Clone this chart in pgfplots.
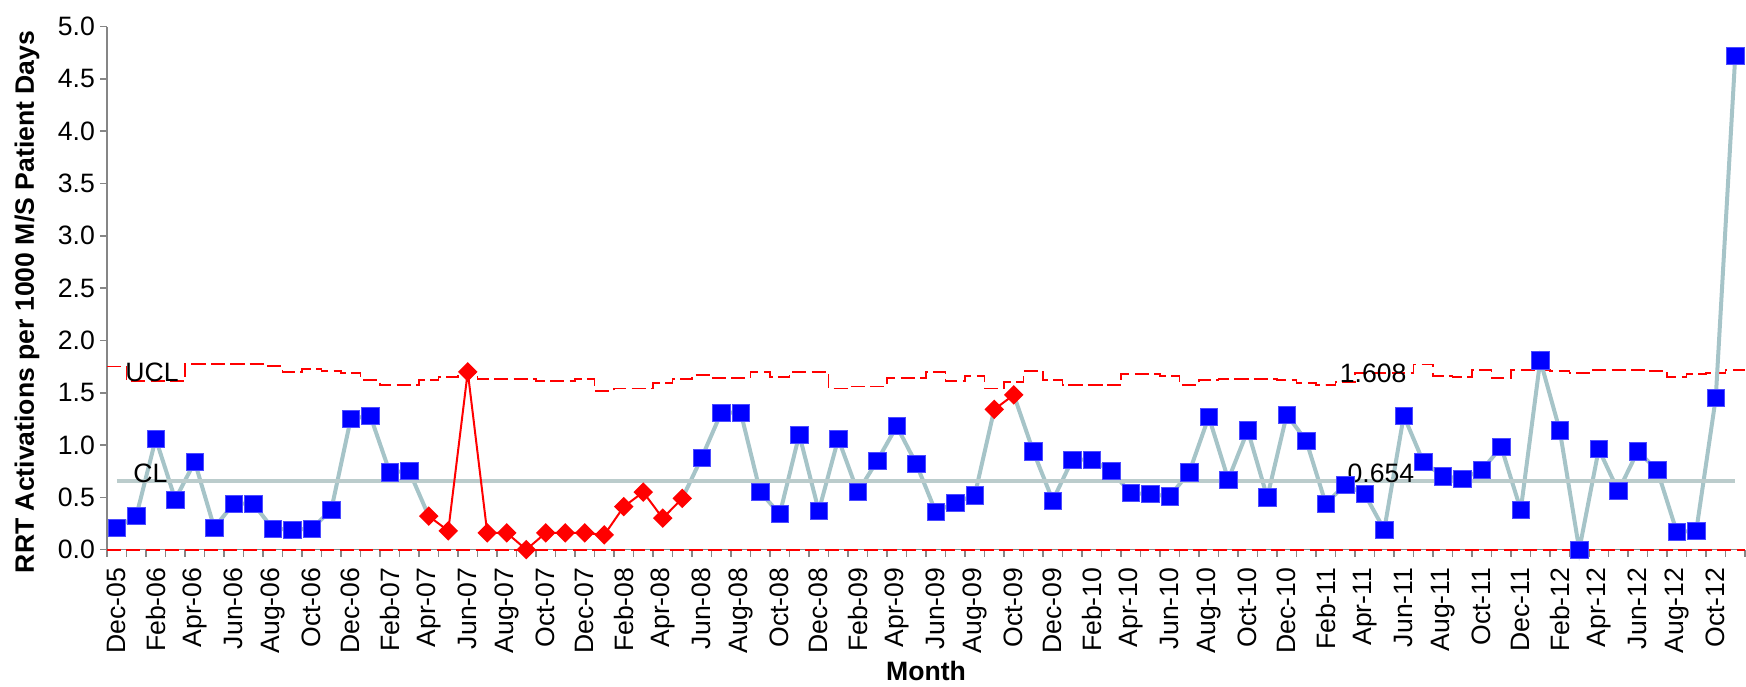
\documentclass[border=0pt]{standalone}
\usepackage{fontspec}
\setmainfont{Liberation Sans}
\usepackage{pgfplots}
\usepackage{pgfplotstable}
\pgfplotsset{compat=1.18}
\definecolor{dataline}{RGB}{166,196,200}
\definecolor{clline}{RGB}{187,204,204}
\definecolor{axgray}{RGB}{134,134,134}
\newcommand{\chartfont}{\fontsize{13.3}{15}\selectfont}
\pgfplotstableread{
i v
0 0.21
1 0.32
2 1.06
3 0.48
4 0.84
5 0.21
6 0.44
7 0.44
8 0.20
9 0.19
10 0.20
11 0.38
12 1.25
13 1.28
14 0.74
15 0.75
16 0.32
17 0.18
18 1.70
19 0.16
20 0.16
21 0.00
22 0.16
23 0.16
24 0.16
25 0.14
26 0.41
27 0.55
28 0.30
29 0.49
30 0.88
31 1.31
32 1.31
33 0.55
34 0.34
35 1.10
36 0.37
37 1.06
38 0.55
39 0.85
40 1.18
41 0.82
42 0.36
43 0.45
44 0.52
45 1.34
46 1.48
47 0.94
48 0.47
49 0.86
50 0.86
51 0.75
52 0.54
53 0.53
54 0.51
55 0.74
56 1.27
57 0.67
58 1.14
59 0.50
60 1.29
61 1.04
62 0.44
63 0.62
64 0.53
65 0.19
66 1.28
67 0.84
68 0.70
69 0.68
70 0.76
71 0.98
72 0.38
73 1.81
74 1.14
75 0.00
76 0.96
77 0.56
78 0.94
79 0.76
80 0.17
81 0.18
82 1.45
83 4.72
}\rrtdata
\pgfplotstableread{
i u
-0.5 1.75
0 1.75
1 1.61
2 1.61
3 1.61
4 1.775
5 1.775
6 1.775
7 1.775
8 1.755
9 1.70
10 1.73
11 1.71
12 1.69
13 1.62
14 1.57
15 1.57
16 1.62
17 1.65
18 1.69
19 1.63
20 1.63
21 1.63
22 1.61
23 1.61
24 1.63
25 1.52
26 1.54
27 1.54
28 1.59
29 1.63
30 1.67
31 1.64
32 1.64
33 1.70
34 1.65
35 1.70
36 1.70
37 1.54
38 1.56
39 1.56
40 1.64
41 1.64
42 1.70
43 1.61
44 1.66
45 1.54
46 1.60
47 1.71
48 1.62
49 1.575
50 1.575
51 1.575
52 1.68
53 1.68
54 1.66
55 1.575
56 1.62
57 1.63
58 1.63
59 1.63
60 1.62
61 1.59
62 1.575
63 1.606
64 1.686
65 1.686
66 1.69
67 1.77
68 1.66
69 1.65
70 1.72
71 1.64
72 1.72
73 1.72
74 1.71
75 1.69
76 1.72
77 1.72
78 1.72
79 1.71
80 1.65
81 1.68
82 1.69
83 1.72
83.5 1.72
}\ucldata
\begin{document}
\begin{tikzpicture}
\begin{axis}[
  scale only axis,
  width=819pt, height=261.5pt,
  xmin=-0.5, xmax=83.5, ymin=0, ymax=5,
  clip=false,
  axis x line*=bottom, axis y line*=left,
  axis line style={draw=axgray, line width=0.8pt},
  tick align=outside,
  xtick={0,2,...,82},
  xticklabels={Dec-05,Feb-06,Apr-06,Jun-06,Aug-06,Oct-06,Dec-06,Feb-07,Apr-07,Jun-07,Aug-07,Oct-07,Dec-07,Feb-08,Apr-08,Jun-08,Aug-08,Oct-08,Dec-08,Feb-09,Apr-09,Jun-09,Aug-09,Oct-09,Dec-09,Feb-10,Apr-10,Jun-10,Aug-10,Oct-10,Dec-10,Feb-11,Apr-11,Jun-11,Aug-11,Oct-11,Dec-11,Feb-12,Apr-12,Jun-12,Aug-12,Oct-12},
  major x tick style={draw=none},
  minor xtick={-0.5,0.5,...,83.5},
  minor x tick style={draw=axgray, line width=0.8pt},
  minor tick length=3.5pt,
  ytick={0,0.5,...,5},
  major y tick style={draw=axgray, line width=0.8pt},
  major tick length=3.5pt,
  /pgf/number format/assume math mode=true,
  y tick label style={/pgf/number format/fixed, /pgf/number format/fixed zerofill, /pgf/number format/precision=1},
  ticklabel style={font=\chartfont},
  x tick label style={rotate=90, anchor=east, xshift=-2pt},
  y tick label style={xshift=1pt},
  xlabel={Month}, ylabel={RRT Activations per 1000 M/S Patient Days},
  every axis x label/.style={at={(axis description cs:0.5,0)}, yshift=-60.5pt, anchor=center, font=\bfseries\chartfont},
  every axis y label/.style={at={(axis description cs:0,0.4736)}, xshift=-40pt, rotate=90, anchor=center, font=\bfseries\chartfont},
]
% UCL
\addplot[red, line width=0.9pt, dash pattern=on 7pt off 2.7pt, const plot mark mid, no markers] table[x=i,y=u] {\ucldata};
% LCL
\addplot[red, line width=1pt, dash pattern=on 7pt off 2.7pt, no markers] coordinates {(-0.5,0) (83.5,0)};
% data gray line
\addplot[dataline, line width=2pt, no markers, restrict x to domain=0:16] table[x=i,y=v] {\rrtdata};
\addplot[dataline, line width=2pt, no markers, restrict x to domain=29:45] table[x=i,y=v] {\rrtdata};
\addplot[dataline, line width=2pt, no markers, restrict x to domain=46:83] table[x=i,y=v] {\rrtdata};
% CL
\addplot[clline, line width=2pt, no markers] coordinates {(0,0.654) (83,0.654)};
% red segments
\addplot[red, line width=1pt, mark=square*, mark size=2.95pt, mark options={rotate=45, fill=red, draw=red}, restrict x to domain=16:29] table[x=i,y=v] {\rrtdata};
\addplot[red, line width=1pt, mark=square*, mark size=2.95pt, mark options={rotate=45, fill=red, draw=red}, restrict x to domain=45:46] table[x=i,y=v] {\rrtdata};
% blue markers
\addplot[only marks, mark=square*, mark size=4.3pt, mark options={fill=blue, draw=blue!70!white, line width=0.3pt}, restrict x to domain=0:15] table[x=i,y=v] {\rrtdata};
\addplot[only marks, mark=square*, mark size=4.3pt, mark options={fill=blue, draw=blue!70!white, line width=0.3pt}, restrict x to domain=30:44] table[x=i,y=v] {\rrtdata};
\addplot[only marks, mark=square*, mark size=4.3pt, mark options={fill=blue, draw=blue!70!white, line width=0.3pt}, restrict x to domain=47:83] table[x=i,y=v] {\rrtdata};
% labels
\node[anchor=west, inner sep=0pt, font=\chartfont] at (axis cs:0.42,1.69) {UCL};
\node[anchor=west, inner sep=0pt, font=\chartfont] at (axis cs:0.83,0.73) {CL};
\node[anchor=west, inner sep=0pt, font=\chartfont] at (axis cs:62.7,1.686) {1.608};
\node[anchor=west, inner sep=0pt, font=\chartfont] at (axis cs:63.1,0.73) {0.654};
\end{axis}
\pgfresetboundingbox
\path[use as bounding box] ([xshift=-53.5pt,yshift=-68.2pt]current axis.south west) rectangle ([xshift=0.5pt,yshift=13.3pt]current axis.north east);
\end{tikzpicture}
\end{document}
